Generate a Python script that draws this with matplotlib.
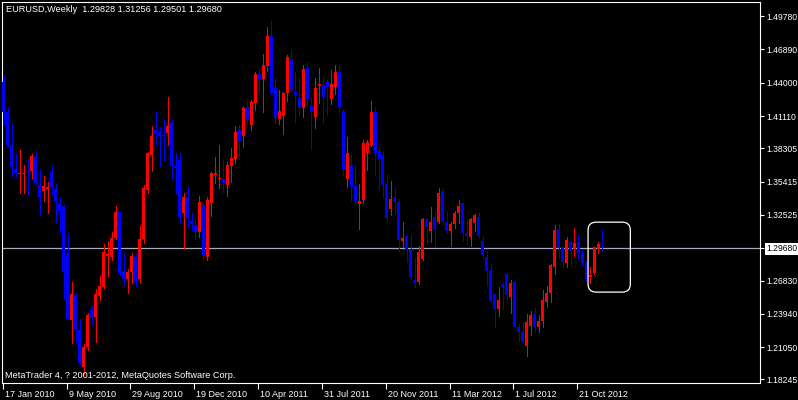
import numpy as np
import pandas as pd
import matplotlib
matplotlib.use('Agg')
import matplotlib.pyplot as plt
from matplotlib.patches import FancyBboxPatch
from matplotlib.transforms import ScaledTranslation

plt.rcParams['font.family'] = ['Liberation Sans', 'DejaVu Sans']

# weekly EURUSD candles, first week starts 17 Jan 2010
first_week = '2010-01-17'

opens = [
    1.4406, 1.4146, 1.3859, 1.3649, 1.3610, 1.3605, 1.3630, 1.3636, 1.3753, 1.3512,
    1.3463, 1.3477, 1.3622, 1.3475, 1.3347, 1.3328, 1.2920, 1.2340, 1.2557, 1.2250,
    1.1935, 1.2105, 1.2427, 1.2369, 1.2549, 1.2630, 1.2896, 1.2890, 1.3052, 1.3280,
    1.2766, 1.2694, 1.2760, 1.2890, 1.2696, 1.3043, 1.3469, 1.3773, 1.3990, 1.3975,
    1.3950, 1.3965, 1.4053, 1.3680, 1.3729, 1.3272, 1.3411, 1.3202, 1.3165, 1.3107,
    1.3339, 1.2890, 1.3359, 1.3602, 1.3562, 1.3562, 1.3512, 1.3677, 1.3738, 1.3990,
    1.3938, 1.4190, 1.4033, 1.4224, 1.4476, 1.4430, 1.4545, 1.4806, 1.4352, 1.4083,
    1.4114, 1.4314, 1.4604, 1.4320, 1.4265, 1.4185, 1.4531, 1.4198, 1.4105, 1.4372,
    1.4380, 1.4415, 1.4256, 1.4360, 1.4496, 1.4155, 1.3564, 1.3677, 1.3504, 1.3345,
    1.3382, 1.3787, 1.3860, 1.4149, 1.3807, 1.3773, 1.3521, 1.3304, 1.3405, 1.3367,
    1.3029, 1.3070, 1.2948, 1.2688, 1.2670, 1.2870, 1.3215, 1.3116, 1.3232, 1.3194,
    1.3460, 1.3188, 1.3113, 1.3171, 1.3267, 1.3353, 1.3093, 1.3063, 1.3185, 1.3232,
    1.3026, 1.2885, 1.2774, 1.2566, 1.2433, 1.2653, 1.2740, 1.2543, 1.2673, 1.2277,
    1.2239, 1.2114, 1.2288, 1.2392, 1.2277, 1.2334, 1.2499, 1.2572, 1.2798, 1.3122,
    1.2971, 1.2838, 1.3017, 1.2954, 1.3017, 1.2919, 1.2833, 1.2711, 1.2746, 1.2957,
    1.29828]

highs = [
    1.4456, 1.4190, 1.4041, 1.3785, 1.3818, 1.3690, 1.3740, 1.3780, 1.3805, 1.3650,
    1.3590, 1.3540, 1.3686, 1.3521, 1.3411, 1.3340, 1.3094, 1.2674, 1.2574, 1.2350,
    1.2130, 1.2400, 1.2462, 1.2609, 1.2723, 1.3000, 1.3029, 1.3107, 1.3333, 1.3280,
    1.2925, 1.2785, 1.2923, 1.2920, 1.3156, 1.3510, 1.3800, 1.4025, 1.4146, 1.4020,
    1.4077, 1.4276, 1.4087, 1.3790, 1.3787, 1.3440, 1.3498, 1.3270, 1.3220, 1.3417,
    1.3360, 1.3405, 1.3628, 1.3758, 1.3860, 1.3735, 1.3715, 1.3831, 1.4024, 1.4033,
    1.4195, 1.4250, 1.4250, 1.4490, 1.4521, 1.4650, 1.4880, 1.4936, 1.4440, 1.4337,
    1.4320, 1.4640, 1.4693, 1.4496, 1.4440, 1.4550, 1.4580, 1.4279, 1.4440, 1.4528,
    1.4450, 1.4420, 1.4510, 1.4550, 1.4545, 1.4170, 1.3932, 1.3780, 1.3686, 1.3521,
    1.3900, 1.3900, 1.4244, 1.4190, 1.3851, 1.3810, 1.3610, 1.3547, 1.3484, 1.3390,
    1.3194, 1.3080, 1.3080, 1.2880, 1.2980, 1.3230, 1.3230, 1.3320, 1.3290, 1.3486,
    1.3486, 1.3290, 1.3190, 1.3290, 1.3385, 1.3353, 1.3210, 1.3230, 1.3265, 1.3280,
    1.3070, 1.2940, 1.2818, 1.2570, 1.2630, 1.2670, 1.2748, 1.2690, 1.2680, 1.2310,
    1.2320, 1.2390, 1.2420, 1.2445, 1.2380, 1.2600, 1.2640, 1.2830, 1.3165, 1.3172,
    1.2971, 1.3060, 1.3030, 1.3137, 1.3080, 1.2960, 1.2850, 1.2803, 1.2975, 1.3015,
    1.31256]

lows = [
    1.4030, 1.3855, 1.3580, 1.3580, 1.3444, 1.3440, 1.3435, 1.3570, 1.3520, 1.3252,
    1.3376, 1.3272, 1.3426, 1.3194, 1.3107, 1.2525, 1.2346, 1.2143, 1.2153, 1.1960,
    1.1876, 1.2080, 1.2300, 1.2150, 1.2517, 1.2615, 1.2722, 1.2861, 1.3040, 1.2730,
    1.2653, 1.2578, 1.2660, 1.2640, 1.2664, 1.3010, 1.3440, 1.3630, 1.3870, 1.3680,
    1.3730, 1.3860, 1.3570, 1.3443, 1.3194, 1.2957, 1.3150, 1.3120, 1.3040, 1.3063,
    1.2874, 1.2862, 1.3240, 1.3527, 1.3484, 1.3454, 1.3417, 1.3540, 1.3701, 1.3738,
    1.3845, 1.4040, 1.3990, 1.4165, 1.4320, 1.4150, 1.4500, 1.4300, 1.4050, 1.4042,
    1.3955, 1.4240, 1.4320, 1.4062, 1.4120, 1.4103, 1.4198, 1.3825, 1.4007, 1.4224,
    1.4050, 1.4120, 1.4220, 1.4300, 1.4150, 1.3600, 1.3492, 1.3376, 1.3353, 1.3130,
    1.3360, 1.3643, 1.3850, 1.3599, 1.3469, 1.3411, 1.3202, 1.3252, 1.3272, 1.2942,
    1.2977, 1.2846, 1.2700, 1.2624, 1.2650, 1.2860, 1.3006, 1.3015, 1.2975, 1.3180,
    1.3170, 1.3100, 1.2980, 1.3140, 1.3185, 1.3030, 1.3000, 1.2983, 1.3110, 1.3050,
    1.2880, 1.2638, 1.2495, 1.2282, 1.2375, 1.2440, 1.2520, 1.2401, 1.2280, 1.2160,
    1.2140, 1.2027, 1.2210, 1.2240, 1.2240, 1.2280, 1.2450, 1.2500, 1.2740, 1.2880,
    1.2800, 1.2800, 1.2810, 1.2900, 1.2880, 1.2820, 1.2680, 1.2659, 1.2740, 1.2920,
    1.29501]

closes = [
    1.4146, 1.3859, 1.3671, 1.3619, 1.3620, 1.3620, 1.3622, 1.3764, 1.3527, 1.3405,
    1.3504, 1.3497, 1.3492, 1.3376, 1.3289, 1.2755, 1.2350, 1.2566, 1.2262, 1.1965,
    1.2105, 1.2383, 1.2355, 1.2566, 1.2635, 1.2933, 1.2910, 1.3050, 1.3278, 1.2746,
    1.2694, 1.2760, 1.2896, 1.2673, 1.3043, 1.3489, 1.3790, 1.3938, 1.3965, 1.3938,
    1.3935, 1.4024, 1.3680, 1.3663, 1.3234, 1.3411, 1.3223, 1.3174, 1.3107, 1.3367,
    1.2896, 1.3382, 1.3619, 1.3614, 1.3576, 1.3527, 1.3686, 1.3747, 1.3975, 1.3897,
    1.4180, 1.4080, 1.4233, 1.4476, 1.4430, 1.4554, 1.4806, 1.4308, 1.4105, 1.4155,
    1.4308, 1.4626, 1.4343, 1.4294, 1.4178, 1.4517, 1.4256, 1.4149, 1.4352, 1.4389,
    1.4273, 1.4360, 1.4387, 1.4490, 1.4187, 1.3643, 1.3787, 1.3492, 1.3376, 1.3373,
    1.3874, 1.3888, 1.4149, 1.3787, 1.3738, 1.3512, 1.3228, 1.3391, 1.3367, 1.3035,
    1.3050, 1.2948, 1.2711, 1.2664, 1.2933, 1.3217, 1.3145, 1.3191, 1.3130, 1.3440,
    1.3194, 1.3116, 1.3171, 1.3267, 1.3333, 1.3093, 1.3070, 1.3215, 1.3252, 1.3070,
    1.2905, 1.2768, 1.2508, 1.2433, 1.2514, 1.2630, 1.2557, 1.2664, 1.2282, 1.2239,
    1.2152, 1.2325, 1.2384, 1.2277, 1.2334, 1.2514, 1.2577, 1.2818, 1.3122, 1.2962,
    1.2846, 1.3035, 1.2942, 1.3011, 1.2925, 1.2833, 1.2694, 1.2728, 1.2971, 1.3000,
    1.29680]

price_ticks = [1.49780, 1.46890, 1.44000, 1.41110, 1.38305, 1.35415,
               1.32525, 1.29680, 1.26830, 1.23940, 1.21050, 1.18245]
date_labels = ['17 Jan 2010', '9 May 2010', '29 Aug 2010', '19 Dec 2010',
               '10 Apr 2011', '31 Jul 2011', '20 Nov 2011', '11 Mar 2012',
               '1 Jul 2012', '21 Oct 2012']

header = 'EURUSD,Weekly  1.29828 1.31256 1.29501 1.29680'
footer = 'MetaTrader 4, ? 2001-2012, MetaQuotes Software Corp.'

df = pd.DataFrame({'open': opens, 'high': highs, 'low': lows, 'close': closes})
df['week'] = pd.date_range(first_week, periods=len(df), freq='7D')
x = np.arange(len(df))
bull = df['close'] >= df['open']
colors = np.where(bull, '#ff0000', '#0000ff')

BG = 'black'
FG = 'white'
W, H = 798, 400

fig = plt.figure(figsize=(W / 100, H / 100), dpi=100, facecolor=BG)
ax = fig.add_axes([2 / W, 17 / H, 758 / W, 381 / H], facecolor=BG)

# current price line
last = closes[-1]
ax.axhline(last, color='#a3abbb', lw=0.9, zorder=1)

# wicks + bodies
ax.vlines(x, df['low'], df['high'], colors=colors, lw=0.72, zorder=2, antialiased=False)
body_lo = np.minimum(df['open'], df['close'])
body_h = np.maximum((df['close'] - df['open']).abs(), 0.0009)
ax.bar(x, body_h, bottom=body_lo, width=0.75, color=colors, linewidth=0,
       zorder=3, antialiased=False)

ax.set_xlim(-0.5, 189.5)
ax.set_ylim(1.1794, 1.5101)

# frame
for side in ['left', 'right', 'top', 'bottom']:
    ax.spines[side].set_color(FG)
    ax.spines[side].set_linewidth(0.8)

# price axis on the right
ax.yaxis.tick_right()
ax.set_yticks(price_ticks)
ax.set_yticklabels([f'{p:.5f}' for p in price_ticks])
ax.tick_params(axis='y', colors=FG, labelcolor=FG, direction='out', length=3,
               width=0.8, pad=1.5, labelsize=6.2, left=False, right=True)
for lab in ax.get_yticklabels():
    if lab.get_text() == f'{last:.5f}':
        lab.set_color('black')
        lab.set_bbox(dict(facecolor='white', edgecolor='none', pad=1.2))

# date axis
week_str = df['week'].dt.strftime('%d %b %Y').str.lstrip('0').tolist()
tick_pos = [week_str.index(d) - 0.3 for d in date_labels]
ax.set_xticks(tick_pos)
ax.set_xticklabels(date_labels)
ax.tick_params(axis='x', colors=FG, labelcolor=FG, direction='out', length=4,
               width=0.8, pad=1, labelsize=6.5)
shift = ScaledTranslation(2 / 100, 0, fig.dpi_scale_trans)
for lab in ax.get_xticklabels():
    lab.set_ha('left')
    lab.set_transform(lab.get_transform() + shift)

# highlight box round the last candles
box_x0, box_x1 = 146.4, 157.0
box_y0, box_y1 = 1.2583, 1.3190
box = FancyBboxPatch((box_x0, box_y0), box_x1 - box_x0, box_y1 - box_y0,
                     boxstyle='round,pad=0,rounding_size=2',
                     mutation_aspect=0.0035,
                     facecolor='none', edgecolor=FG, lw=0.9, zorder=4)
ax.add_patch(box)

fig.text(6 / W, 1 - 10 / H, header, color=FG, fontsize=6.6, va='center', ha='left')
fig.text(5 / W, 1 - 375 / H, footer, color=FG, fontsize=6.6, va='center', ha='left')

fig.savefig('out.png', dpi=100, facecolor=BG)
